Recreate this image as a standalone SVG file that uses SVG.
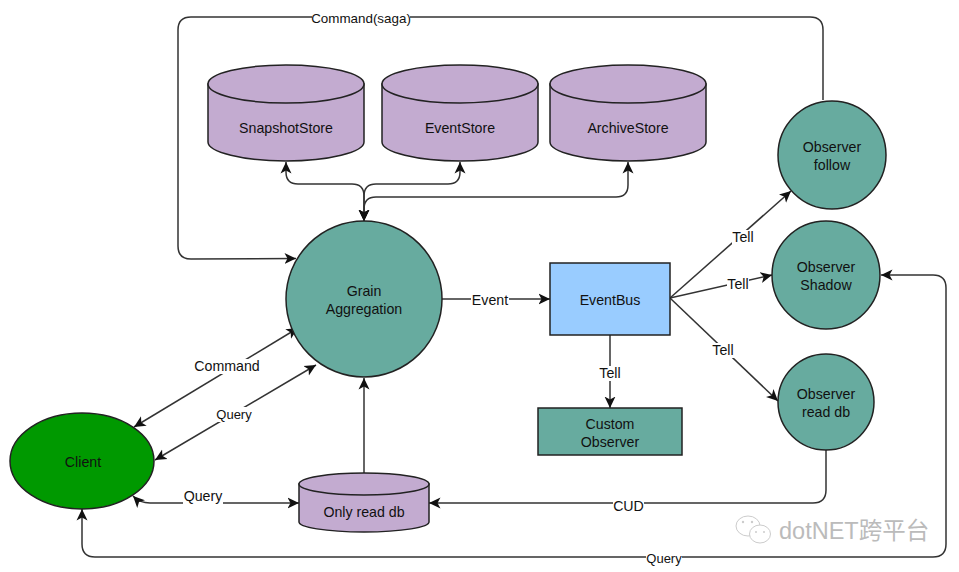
<svg xmlns="http://www.w3.org/2000/svg" width="959" height="572" viewBox="0 0 959 572">
<style>
text{font-family:"Liberation Sans",Arial,sans-serif;font-size:14.200px;fill:#111;text-anchor:middle}
.n{stroke:#222;stroke-width:1.5}
.g{fill:#67ab9f}.p{fill:#c3abd0}
.c{fill:none;stroke:#333;stroke-width:1.500;marker-end:url(#a)}
.s{marker-start:url(#b)}
.lb{fill:#fff}
text.wm{fill:#bbb;font-size:23.500px;text-anchor:start;font-family:"Liberation Sans","Noto Sans CJK SC",sans-serif}
.wi{fill:#fff;stroke:#ccc;stroke-width:1}
.we{fill:#ccc}
</style>
<defs>
<marker id="a" markerUnits="userSpaceOnUse" markerWidth="13" markerHeight="12" refX="11.500" refY="6" orient="auto"><path d="M0 .5L11.500 6L0 11.500L3 6Z" fill="#111"/></marker>
<marker id="b" markerUnits="userSpaceOnUse" markerWidth="13" markerHeight="12" refX="1.500" refY="6" orient="auto"><path d="M13 .5L1.500 6L13 11.500L10 6Z" fill="#111"/></marker>
</defs>
<rect width="959" height="572" fill="#fff"/>
<g id="connectors">
<path class="c" d="M823 100V30Q823 17 810 17H191Q178 17 178 30V246Q178 259 191 259L296 258.500"/>
<path class="c s" d="M286 162V172Q286 184 298 184H352Q364 184 364 196V221"/>
<path class="c s" d="M460 162V172Q460 184 448 184H376Q364 184 364 196V221"/>
<path class="c s" d="M628 162V185Q628 197 616 197H376Q364 197 364 209V221"/>
<path class="c" d="M442 299H550"/>
<path class="c" d="M670 298L791 191"/>
<path class="c" d="M670 298L772 275"/>
<path class="c" d="M670 298L778 401"/>
<path class="c" d="M610 335V408"/>
<path class="c s" d="M134 427L298 328"/>
<path class="c s" d="M155 460L316 365"/>
<path class="c s" d="M133 496Q140 503 150 503H299"/>
<path class="c" d="M364 473V378"/>
<path class="c" d="M826 450V490Q826 503 813 503H429"/>
<path class="c s" d="M881 275H933Q946 275 946 288V544Q946 557 933 557H95Q82 557 82 544V509"/>
</g>
<g id="edge-labels">
<rect class="lb" x="312" y="10" width="98" height="16"/><text x="361" y="23" style="font-size:13.400px">Command(saga)</text>
<rect class="lb" x="471" y="292" width="38" height="15"/><text x="490" y="305">Event</text>
<rect class="lb" x="732" y="230" width="22" height="15"/><text x="743" y="242">Tell</text>
<rect class="lb" x="727" y="277" width="22" height="15"/><text x="738" y="289">Tell</text>
<rect class="lb" x="712" y="343" width="22" height="15"/><text x="723" y="355">Tell</text>
<rect class="lb" x="599" y="366" width="22" height="15"/><text x="610" y="378">Tell</text>
<rect class="lb" x="194" y="359" width="67" height="15"/><text x="227" y="371">Command</text>
<rect class="lb" x="216" y="407" width="36" height="15"/><text x="234" y="419" style="font-size:13px">Query</text>
<rect class="lb" x="183" y="489" width="40" height="16"/><text x="203" y="501">Query</text>
<rect class="lb" x="613" y="499" width="31" height="15"/><text x="628.500" y="511">CUD</text>
<rect class="lb" x="646" y="551" width="36" height="14"/><text x="664" y="563" style="font-size:13px">Query</text>
</g>
<g id="snapshot-store">
<path class="n p" d="M208 84V142C208 152 243 161 286 161S364 152 364 142V84Z"/>
<ellipse class="n p" cx="286" cy="84" rx="78" ry="19"/>
<text x="286" y="133">SnapshotStore</text>
</g>
<g id="event-store">
<path class="n p" d="M382 84V142C382 152 417 161 460 161S538 152 538 142V84Z"/>
<ellipse class="n p" cx="460" cy="84" rx="78" ry="19"/>
<text x="460" y="133">EventStore</text>
</g>
<g id="archive-store">
<path class="n p" d="M550 84V142C550 152 585 161 628 161S706 152 706 142V84Z"/>
<ellipse class="n p" cx="628" cy="84" rx="78" ry="19"/>
<text x="628" y="133">ArchiveStore</text>
</g>
<g id="grain-aggregation">
<circle class="n g" cx="364" cy="299" r="78"/>
<text x="364" y="296">Grain</text><text x="364" y="314">Aggregation</text>
</g>
<g id="event-bus">
<rect class="n" x="550" y="263" width="120" height="72" fill="#99ccff"/>
<text x="610" y="305">EventBus</text>
</g>
<g id="custom-observer">
<rect class="n g" x="538" y="408" width="144" height="47"/>
<text x="610" y="429">Custom</text><text x="610" y="447">Observer</text>
</g>
<g id="observer-follow">
<circle class="n g" cx="832" cy="155" r="54"/>
<text x="832" y="152">Observer</text><text x="832" y="170">follow</text>
</g>
<g id="observer-shadow">
<circle class="n g" cx="826" cy="275" r="54"/>
<text x="826" y="272">Observer</text><text x="826" y="290">Shadow</text>
</g>
<g id="observer-read-db">
<ellipse class="n g" cx="826" cy="402" rx="48" ry="48"/>
<text x="826" y="399">Observer</text><text x="826" y="417">read db</text>
</g>
<g id="client">
<ellipse class="n" cx="82" cy="461" rx="72" ry="48" fill="#009900"/>
<text x="83" y="467">Client</text>
</g>
<g id="only-read-db">
<path class="n p" d="M299 484V522C299 527 325 532 364 532S429 527 429 522V484Z"/>
<ellipse class="n p" cx="364" cy="484" rx="65" ry="11"/>
<text x="364" y="517">Only read db</text>
</g>
<g id="watermark">
<ellipse class="wi" cx="748" cy="526" rx="12" ry="10"/>
<ellipse class="wi" cx="760" cy="534" rx="10.500" ry="9"/>
<circle class="we" cx="743" cy="522" r="1.200"/><circle class="we" cx="752" cy="522" r="1.200"/>
<circle class="we" cx="756" cy="532" r="1"/><circle class="we" cx="764" cy="532" r="1"/>
<text class="wm" x="779" y="539">dotNET跨平台</text>
</g>
</svg>
